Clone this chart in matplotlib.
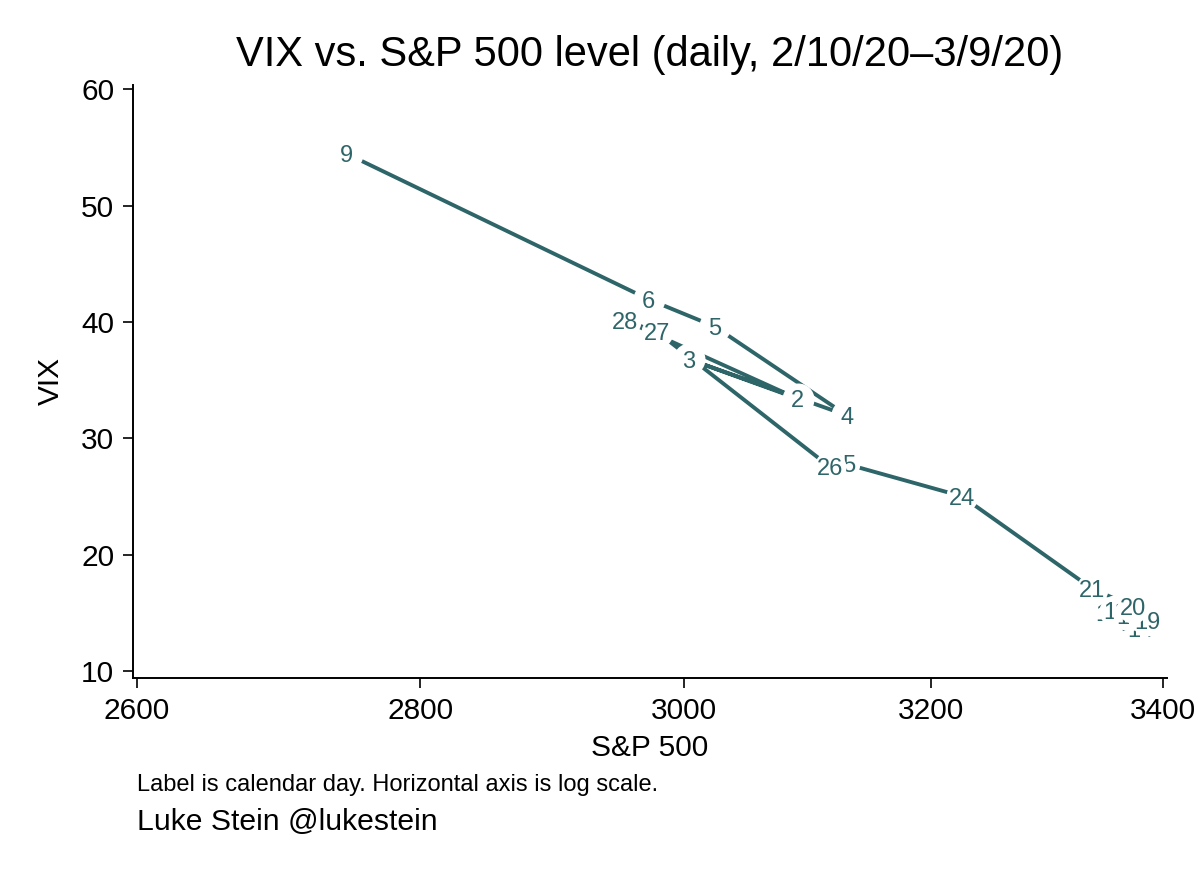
import matplotlib.pyplot as plt
from matplotlib.ticker import FixedLocator, NullLocator

# --- datos diarios, 10 feb 2020 a 9 mar 2020 ---
dias = [10, 11, 12, 13, 14, 18, 19, 20, 21, 24, 25, 26, 27, 28, 2, 3, 4, 5, 6, 9]
spx = [3352.09, 3357.75, 3379.45, 3373.94, 3380.16, 3370.29, 3386.15, 3373.23,
       3337.75, 3225.89, 3128.21, 3116.39, 2978.76, 2954.22, 3090.23, 3003.37,
       3130.12, 3023.94, 2972.37, 2746.56]
vix = [15.04, 15.18, 13.74, 14.15, 13.68, 14.83, 14.38, 15.56, 17.08, 25.03,
       27.85, 27.56, 39.16, 40.11, 33.42, 36.82, 31.99, 39.62, 41.94, 54.46]

x_ticks = [2600, 2800, 3000, 3200, 3400]
y_ticks = [10, 20, 30, 40, 50, 60]

COLOR = '#2e6569'
plt.rcParams['font.family'] = ['Liberation Sans', 'DejaVu Sans']

fig = plt.figure(figsize=(12, 8.73), dpi=100)
ax = fig.add_axes([0.1108, 0.2234, 0.8617, 0.6793])

ax.plot(spx, vix, color=COLOR, lw=2.8, zorder=1, solid_capstyle='butt')

# cada punto: circulo blanco y luego su etiqueta, en orden cronologico
for i, (x, y, d) in enumerate(zip(spx, vix, dias)):
    z = 2 + 2 * i
    ax.plot(x, y, 'o', ms=23, mfc='white', mec='none', zorder=z)
    ax.text(x, y, str(d), color=COLOR, fontsize=17, ha='center',
            va='center_baseline', zorder=z + 1)

ax.set_xscale('log')
ax.set_xlim(2597.3, 3403.6)
ax.set_ylim(9.42, 60.37)
ax.xaxis.set_major_locator(FixedLocator(x_ticks))
ax.xaxis.set_minor_locator(NullLocator())
ax.set_xticklabels([str(t) for t in x_ticks])
ax.set_yticks(y_ticks)
ax.tick_params(labelsize=21.5, length=7.5, width=1.2, direction='out', pad=6)
ax.xaxis.set_minor_locator(NullLocator())

for s in ['top', 'right']:
    ax.spines[s].set_visible(False)
for s in ['left', 'bottom']:
    ax.spines[s].set_linewidth(1.4)

ax.set_xlabel('S&P 500', fontsize=21.5, labelpad=7)
ax.set_ylabel('VIX', fontsize=21.5, labelpad=12)

fig.text(0.5417, 0.937, 'VIX vs. S&P 500 level (daily, 2/10/20\u20133/9/20)',
         fontsize=30, ha='center', va='center')
fig.text(0.114, 0.101, 'Label is calendar day. Horizontal axis is log scale.',
         fontsize=17, ha='left', va='center')
fig.text(0.114, 0.058, 'Luke Stein @lukestein', fontsize=21.7, ha='left', va='center')

fig.savefig('out.png', dpi=100, facecolor='white')
